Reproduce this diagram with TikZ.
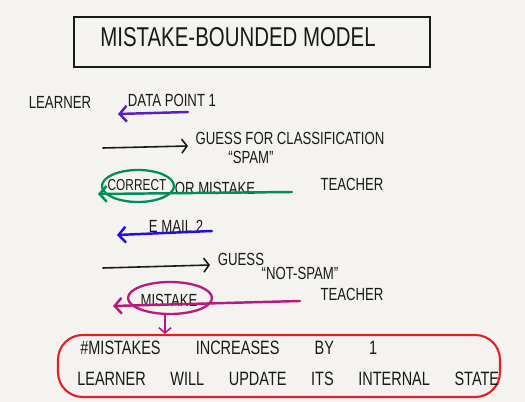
\documentclass[tikz,border=0pt]{standalone}
\usepackage{fontspec}
\setmainfont[FakeStretch=0.75]{Liberation Sans}
\usetikzlibrary{arrows.meta,shapes.geometric}
\definecolor{paper}{RGB}{245,243,240}
\definecolor{ink}{RGB}{25,25,25}
\definecolor{penblue}{RGB}{85,30,200}
\definecolor{pengreen}{RGB}{0,140,95}
\definecolor{penmagenta}{RGB}{185,25,125}
\definecolor{penred}{RGB}{228,30,36}
\newcommand{\wordgap}[1]{\spaceskip=#1\relax}

\begin{document}
\begin{tikzpicture}[
			x=0.02cm,y=-0.02cm,
			handtext/.style={
				inner sep=0pt,
				text=ink,
				font=\fontsize{10}{12}\selectfont
			},
			titlebox/.style={
				draw=ink,
				line width=1.3pt,
				minimum width=7.12cm,
				minimum height=1cm,
				inner sep=0pt
			},
			loop/.style={
				ellipse,
				line width=1.3pt,
				minimum width=#1,
				minimum height=0.64cm,
				inner sep=0pt
			},
			penarrow/.style={
				-{Straight Barb[length=4pt,width=9pt]},
				line width=1.4pt,
				line cap=round
			},
			inkarrow/.style={
				-{Straight Barb[length=3pt,width=8pt]},
				draw=ink,
				line width=0.9pt,
				line cap=round
			},
			resultbox/.style={
				draw=penred,
				line width=1.2pt,
				rounded corners=14pt,
				minimum width=8.84cm,
				minimum height=1.24cm,
				inner sep=0pt
			}
			]
			
			\fill[paper] (0,0) rectangle (525,402);
			
			\node[titlebox] (titlebox) at (252,42) {};
			\node[handtext,font=\fontsize{15.5}{18}\selectfont] (title) at (238,37) {MISTAKE-BOUNDED MODEL};
			
			% first data point
			\node[handtext] (learner) at (60,102) {LEARNER};
			\node[handtext] (point1) at (172,100) {DATA POINT 1};
			\node[handtext] (guess1) at (290,138) {GUESS FOR CLASSIFICATION};
			\node[handtext] (spam) at (251,157) {``SPAM''};
			\node[handtext,font=\fontsize{9}{11}\selectfont] (correct) at (137,185) {CORRECT};
			\node[loop=1.44cm,draw=pengreen] (correctloop) at (138,186) {};
			\node[handtext] (ormistake) at (215,188) {OR MISTAKE};
			\node[handtext] (teacher1) at (352,184) {TEACHER};
			
			\coordinate (p1from) at (188,112);
			\coordinate (p1to) at (118,114);
			\coordinate (g1from) at (103,148);
			\coordinate (g1to) at (188,146);
			\coordinate (t1from) at (292,192);
			\coordinate (t1to) at (98,194);
			
			\draw[penarrow,draw=penblue] (p1from) -- (p1to);
			\draw[inkarrow] (g1from) -- (g1to);
			\draw[penarrow,draw=pengreen] (t1from) -- (t1to);
			
			% second data point
			\node[handtext] (email2) at (176,226) {E MAIL 2};
			\node[handtext] (guess2) at (241,259) {GUESS};
			\node[handtext] (notspam) at (300,273) {``NOT-SPAM''};
			\node[handtext] (teacher2) at (352,294) {TEACHER};
			\node[handtext] (mistake) at (169,300) {MISTAKE};
			\node[loop=1.68cm,draw=penmagenta] (mistakeloop) at (170,298) {};
			
			\coordinate (p2from) at (212,231);
			\coordinate (p2to) at (117,235);
			\coordinate (g2from) at (103,268);
			\coordinate (g2to) at (210,265);
			\coordinate (t2from) at (300,301);
			\coordinate (t2to) at (113,306);
			
			\draw[penarrow,draw=blue!60!penblue] (p2from) -- (p2to);
			\draw[inkarrow] (g2from) -- (g2to);
			\draw[penarrow,draw=penmagenta] (t2from) -- (t2to);
			
			% consequence
			\node[resultbox] (result) at (279,366) {};
			\node[handtext,anchor=west,font=\fontsize{11}{13}\selectfont] (count) at (80,348) {\wordgap{20pt}\#MISTAKES INCREASES BY 1};
			\node[handtext,anchor=west,font=\fontsize{11}{13}\selectfont] (update) at (77,379) {\wordgap{14pt}LEARNER WILL UPDATE ITS INTERNAL STATE};
			
			\draw[-{Straight Barb[length=3pt,width=7pt]},draw=penmagenta,line width=0.9pt] (mistakeloop.south -| 165,0) -- (result.north -| 165,0);
			
		\end{tikzpicture}
\end{document}
